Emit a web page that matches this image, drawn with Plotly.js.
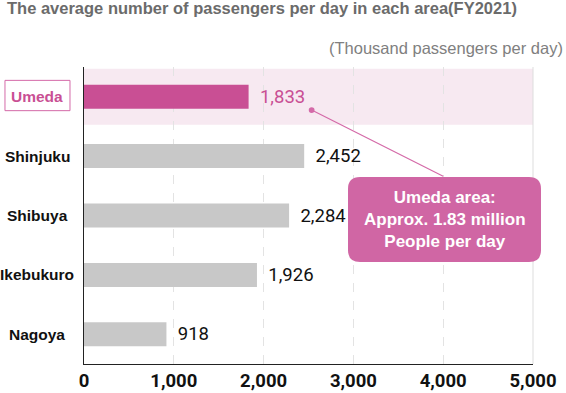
<!DOCTYPE html>
<html><head><meta charset="utf-8">
<script src="https://cdn.plot.ly/plotly-3.0.1.min.js"></script>
<style>html,body{margin:0;padding:0;background:#fff}#chart{width:566px;height:393px}</style>
</head><body><div id="chart"></div>
<script>
const areas = ["Umeda", "Shinjuku", "Shibuya", "Ikebukuro", "Nagoya"];
const passengers = [1833, 2452, 2284, 1926, 918];
const xTicks = [0, 1000, 2000, 3000, 4000, 5000];
const xTickLabels = ["0", "1,000", "2,000", "3,000", "4,000", "5,000"];
const highlight = "Umeda";

const PINK = "#c94f94";
const GREY = "#c8c8c8";
const NUM = "Roboto, sans-serif";
const SANS = "'Liberation Sans', Arial, sans-serif";

const barColors = areas.map(a => a === highlight ? PINK : GREY);
const labelColors = areas.map(a => a === highlight ? PINK : "#111");

const trace = {
  type: "bar", orientation: "h",
  x: passengers, y: areas,
  marker: {color: barColors},
  text: passengers.map(v => "\u2009\u00A0" + v.toLocaleString("en-US")),
  textposition: "outside",
  textfont: {family: NUM, size: 18.5, color: labelColors},
  cliponaxis: false,
  hoverinfo: "none"
};

const annotations = areas.map((a, i) => ({
  xref: "paper", yref: "y", x: -0.1036, y: a, xanchor: "center", yanchor: "middle",
  text: "<b>" + a + "</b>", showarrow: false,
  font: {family: SANS, size: 15.5, color: a === highlight ? PINK : "#111"}
}));

annotations.push({
  xref: "paper", yref: "paper", x: -0.176, y: 1.2003, xanchor: "left", yanchor: "middle",
  text: "<b>The average number of passengers per day in each area(FY2021)</b>", showarrow: false,
  font: {family: SANS, size: 16.5, color: "#6b6b6b"}
});
annotations.push({
  xref: "paper", yref: "paper", x: 1.0713, y: 1.064, xanchor: "right", yanchor: "middle",
  text: "(Thousand passengers per day)", showarrow: false,
  font: {family: SANS, size: 16.5, color: "#808080"}
});
annotations.push({
  xref: "paper", yref: "paper", x: 0.803, y: 0.4865, xanchor: "center", yanchor: "middle",
  text: "<b>Umeda area:<br>Approx. 1.83 million<br>People per day</b>", showarrow: false,
  font: {family: SANS, size: 17, color: "#fff"}
});
annotations.push({
  xref: "paper", yref: "paper", x: 0.507, y: 0.855, text: "", showarrow: true,
  ax: 133, ay: 67, arrowhead: 6, arrowsize: 1.2, arrowwidth: 1.2, arrowcolor: "#d46aa8"
});

function roundRect(x0, y0, x1, y1, rx, ry) {
  return `M${x0+rx},${y0} L${x1-rx},${y0} Q${x1},${y0} ${x1},${y0+ry} L${x1},${y1-ry} Q${x1},${y1} ${x1-rx},${y1} L${x0+rx},${y1} Q${x0},${y1} ${x0},${y1-ry} L${x0},${y0+ry} Q${x0},${y0} ${x0+rx},${y0} Z`;
}

const shapes = [
  {type: "rect", xref: "paper", yref: "y", x0: 0, x1: 1, y0: -0.471, y1: 0.471,
   fillcolor: "#f7e9f1", line: {width: 0}, layer: "below"},
  {type: "rect", xref: "paper", yref: "paper", x0: -0.176, x1: -0.0312, y0: 0.853, y1: 0.955,
   fillcolor: "#fff", line: {color: "#d46aa8", width: 1}, layer: "below"},
  {type: "path", xref: "paper", yref: "paper",
   path: roundRect(0.588, 0.3434, 1.0178, 0.6296, 0.0267, 0.040),
   fillcolor: "#d066a4", line: {width: 0}, layer: "above"},
  {type: "line", xref: "paper", yref: "paper", x0: 1, x1: 1, y0: 0, y1: 1,
   line: {color: "#dddddd", width: 1}, layer: "below"}
];

const layout = {
  width: 566, height: 393,
  margin: {l: 84, r: 33, t: 67, b: 29},
  paper_bgcolor: "#fff", plot_bgcolor: "rgba(0,0,0,0)",
  bargap: 0.596,
  showlegend: false,
  xaxis: {
    range: [0, 5000], tickvals: xTicks, ticktext: xTickLabels,
    showgrid: true, gridcolor: "#e3e3e3", griddash: "dash", gridwidth: 1,
    zeroline: false, showline: true, linecolor: "#222", linewidth: 1,
    ticks: "", tickfont: {family: NUM, size: 18.5, color: "#111", weight: "bold"},
    fixedrange: true
  },
  yaxis: {
    range: [4.5, -0.5], showticklabels: false, showgrid: false, zeroline: false,
    showline: true, linecolor: "#222", linewidth: 1, ticks: "", fixedrange: true
  },
  annotations: annotations,
  shapes: shapes
};

Plotly.newPlot("chart", [trace], layout, {displayModeBar: false, staticPlot: true});
</script></body></html>
